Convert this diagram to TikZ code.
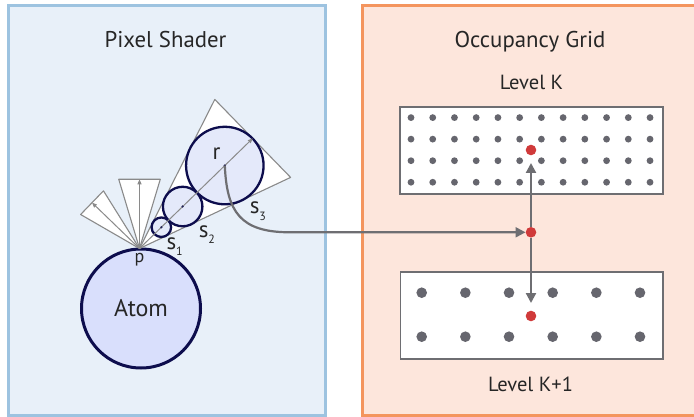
\documentclass[tikz,border=0pt]{standalone}
\usepackage{fontspec}
\setmainfont{PT Sans}
\usetikzlibrary{arrows.meta,calc}
\definecolor{shadefill}{HTML}{E8F0F9}
\definecolor{shadeedge}{HTML}{9DC3E0}
\definecolor{gridfill}{HTML}{FDE6DC}
\definecolor{gridedge}{HTML}{F4955E}
\definecolor{atomfill}{HTML}{D9DFFC}
\definecolor{sphfill}{HTML}{E4E9FA}
\definecolor{navy}{HTML}{0D0D4D}
\definecolor{conegray}{HTML}{8A8A8A}
\definecolor{linkgray}{HTML}{6E6E72}
\definecolor{dotgray}{HTML}{66666E}
\definecolor{hitred}{HTML}{D03A3A}
\definecolor{textgray}{HTML}{262626}
\newcommand{\subs}[2]{#1\raisebox{-6.5pt}{\fontsize{12}{12}\selectfont #2}}
\begin{document}
\begin{tikzpicture}[x=1pt,y=-1pt,
  panelL/.style={fill=shadefill,draw=shadeedge,line width=3pt},
  panelR/.style={fill=gridfill,draw=gridedge,line width=3pt},
  cone/.style={fill=white,draw=conegray,line width=1.1pt,line join=round},
  ray/.style={draw=conegray,line width=1pt,-{Triangle[length=5pt,width=4pt]}},
  sphere/.style={circle,inner sep=0pt,fill=sphfill,draw=navy,line width=2.3pt},
  atom/.style={circle,inner sep=0pt,fill=atomfill,draw=navy,line width=3pt,
    minimum size=119pt,font=\fontsize{24}{28}\selectfont,text=textgray},
  title/.style={font=\fontsize{22.8}{26}\selectfont,text=textgray,anchor=base},
  level/.style={font=\fontsize{20.5}{24}\selectfont,text=textgray,anchor=base},
  lbl/.style={font=\fontsize{23}{26}\selectfont,text=textgray,anchor=base west,inner sep=0pt},
  gridbox/.style={fill=white,draw=linkgray,line width=1.8pt},
  gdot/.style={circle,fill=dotgray,inner sep=0pt,minimum size=6.8pt},
  bdot/.style={circle,fill=dotgray,inner sep=0pt,minimum size=10.6pt},
  hit/.style={circle,fill=hitred,inner sep=0pt,minimum size=10.6pt},
  link/.style={draw=linkgray,line width=2.2pt,-{Triangle[length=10pt,width=10pt]}}
]
\useasboundingbox (0,0) rectangle (694,417);
\fill[white] (0,0) rectangle (694,417);

% panels
\draw[panelL] (8,5.5) rectangle (325,415.5);
\draw[panelR] (362.5,5.5) rectangle (697,415.5);
\node[title] (tshader) at (165.5,47.3) {Pixel Shader};
\node[title] (tgrid) at (530,47.3) {Occupancy Grid};

% atom and sampling point
\node[atom] (atom) at (141,308.5) {Atom};
\coordinate (p) at (139.5,248.5);

% sampling cones
\draw[cone] (p) -- ($(p)+(150:68pt)$) -- ($(p)+(122:68pt)$) -- cycle;
\draw[cone] (p) -- ($(p)+(106.7:72.3pt)$) -- ($(p)+(73.3:72.3pt)$) -- cycle;
\draw[cone] (p) -- ($(p)+(63.2:167pt)$) -- ($(p)+(25.2:167pt)$) -- cycle;
\coordinate (tipA) at ($(p)+(136:66pt)$);
\coordinate (tipB) at ($(p)+(90:69.2pt)$);
\coordinate (tipC) at ($(p)+(44.2:158pt)$);
\draw[ray] (p) -- (tipA);
\draw[ray] (p) -- (tipB);

% spheres marched along the main cone
\node[sphere,minimum size=19.5pt] (c1) at ($(p)+(44.2:30.5pt)$) {};
\node[sphere,minimum size=39.5pt] (c2) at ($(p)+(44.2:60.2pt)$) {};
\node[sphere,minimum size=77.5pt] (c3) at ($(p)+(44.2:119pt)$) {};
\draw[ray] (p) -- (tipC);
\foreach \c in {c1,c2,c3} \fill[navy!80!gray] (\c.center) circle (1.3pt);

% labels
\node[font=\fontsize{18}{20}\selectfont,text=textgray,anchor=base,inner sep=0pt] (lp) at (139.5,262.5) {p};
\node[lbl] (ls1) at (166.3,249.3) {\subs{s}{1}};
\node[lbl] (ls2) at (198.6,237.3) {\subs{s}{2}};
\node[lbl] (ls3) at (249.6,214) {\subs{s}{3}};
\node[lbl,font=\fontsize{23}{26}\selectfont] (lr) at (212.3,160) {r};

% level K grid
\draw[gridbox] (400,106.7) rectangle (662.7,194.3);
\foreach \i in {0,...,11}
  \foreach \j in {0,...,3}
    \node[gdot] at (411+21.73*\i,117.6+21.55*\j) {};
\node[level] (lk) at (531.5,89.3) {Level K};

% level K+1 grid
\draw[gridbox] (400.5,272.3) rectangle (662.7,359.3);
\foreach \i in {0,...,5}
  \foreach \j in {0,1}
    \node[bdot] at (421.7+43.66*\i,292.7+44*\j) {};
\node[level] (lk1) at (530.5,391) {Level K+1};

% lookup points
\node[hit] (hk) at (531,150) {};
\node[hit] (hm) at (531,232.3) {};
\node[hit] (hk1) at (531,316) {};

% connectors
\coordinate (bend) at (290,232.3);
\draw[link] (c3.center) .. controls ($(c3.center)+(2,46)$) and (240,232.3) .. (bend) -- (hm);
\draw[link,shorten >=7.5pt] (hm) -- (hk);
\draw[link,shorten >=7.5pt] (hm) -- (hk1);
\end{tikzpicture}
\end{document}
